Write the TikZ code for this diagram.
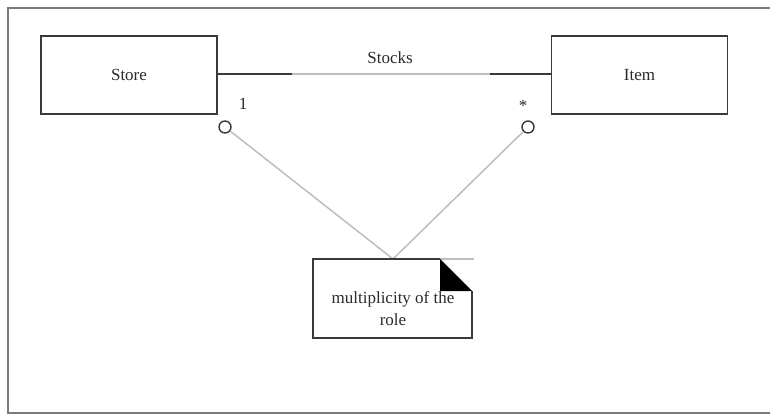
\documentclass[tikz,border=0pt]{standalone}
\usepackage{fontspec}
\setmainfont{Liberation Serif}
\definecolor{edge}{HTML}{3A3A3A}
\definecolor{faint}{HTML}{BDBDBD}
\definecolor{frame}{HTML}{7A7A7A}
\definecolor{ink}{HTML}{2A2A2A}
\begin{document}
\begin{tikzpicture}[x=1pt,y=-1pt,
  classbox/.style={draw=edge,line width=1.8pt,minimum width=176pt,minimum height=78pt,inner sep=0pt,text=ink,font=\fontsize{17}{20}\selectfont},
  rolemark/.style={circle,draw=edge,line width=1.4pt,minimum size=12pt,inner sep=0pt},
  lbl/.style={text=ink,font=\fontsize{17}{20}\selectfont,inner sep=0pt},
  faintline/.style={draw=faint,line width=1.5pt}]
\useasboundingbox (0,0) rectangle (770,415);
% outer frame
\draw[frame,line width=1.5pt] (780,8) -- (8,8) -- (8,413) -- (780,413);
% classes
\node[classbox] (store) at (129,75) {Store};
\node[classbox] (item) at (639.5,75) {Item};
% association
\coordinate (a1) at (292,74);
\coordinate (a2) at (490,74);
\draw[edge,line width=1.8pt] (store.east |- a1) -- (a1);
\draw[faintline] (a1) -- (a2);
\draw[edge,line width=1.8pt] (a2) -- (item.west |- a2);
\node[lbl] (assoc) at (390,58) {Stocks};
% multiplicities
\node[lbl] (m1) at (243,104) {1};
\node[lbl] (m2) at (523,106) {*};
\node[rolemark] (r1) at (225,127) {};
\node[rolemark] (r2) at (528,127) {};
% note
\coordinate (ntop) at (393,259);
\draw[faintline] (r1) -- (ntop);
\draw[faintline] (r2) -- (ntop);
\draw[faint,line width=1.2pt] (313,259) -- (474,259);
\draw[edge,line width=1.8pt] (440,259) -- (313,259) -- (313,338) -- (472,338) -- (472,291);
\fill[black] (440,259) -- (472,291) -- (440,291) -- cycle;
\node[lbl,align=center,font=\fontsize{17}{22}\selectfont] (note) at (393,309) {multiplicity of the\\role};
\end{tikzpicture}
\end{document}
